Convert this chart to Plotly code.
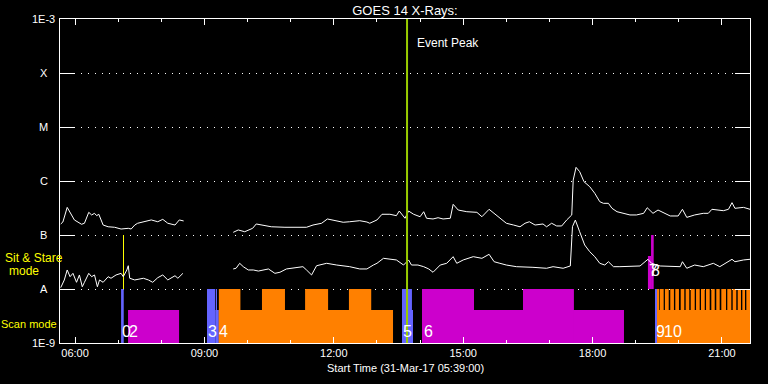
import plotly.graph_objects as go
import pandas as pd
import numpy as np

DAY = "2017-03-31 "

# ---------------- GOES long channel (1-8 A) ----------------
long_time = ["05:40", "05:43", "05:49", "05:51", "05:59", "06:09", "06:13", "06:19", "06:23", "06:27",
             "06:30", "06:33", "06:39", "06:46", "06:55", "07:04", "07:14", "07:18", "07:23", "07:27",
             "07:39", "07:46", "07:55", "08:02", "08:09", "08:19", "08:25", "08:31", "09:00",
             "09:40", "09:44", "09:47", "09:56", "10:07", "10:12", "10:24", "10:33", "10:52", "11:10",
             "11:22", "11:31", "11:43", "11:51", "12:04", "12:13", "12:22", "12:36", "12:46", "12:50",
             "13:00", "13:07", "13:18", "13:27", "13:31", "13:39", "13:44", "13:51", "14:00", "14:05",
             "14:09", "14:18", "14:25", "14:32", "14:42", "14:46", "14:53", "15:05", "15:19", "15:26",
             "15:36", "15:43", "15:50", "16:00", "16:10", "16:19", "16:26", "16:32", "16:40", "16:51",
             "16:56", "17:03", "17:10", "17:17", "17:24", "17:31", "17:33", "17:37", "17:42", "17:48",
             "17:56", "18:03", "18:10", "18:15", "18:22", "18:27", "18:34", "18:44", "18:52", "19:01",
             "19:11", "19:16", "19:24", "19:31", "19:38", "19:48", "19:59", "20:05", "20:11", "20:22",
             "20:34", "20:41", "20:46", "21:02", "21:09", "21:14", "21:18", "21:30", "21:39"]
long_flux = [1.60e-7, 1.74e-7, 3.25e-7, 2.90e-7, 1.90e-7, 1.58e-7, 1.65e-7, 2.63e-7, 2.35e-7, 2.52e-7,
             2.28e-7, 2.42e-7, 1.53e-7, 1.42e-7, 1.39e-7, 1.29e-7, 1.33e-7, 1.29e-7, 1.53e-7, 1.65e-7,
             1.82e-7, 1.90e-7, 1.76e-7, 1.95e-7, 1.65e-7, 1.53e-7, 1.90e-7, 1.82e-7, None,
             1.12e-7, 1.19e-7, 1.24e-7, 1.15e-7, 1.33e-7, 1.60e-7, 1.49e-7, 1.42e-7, 1.39e-7, 1.39e-7,
             1.39e-7, 1.53e-7, 1.65e-7, 1.98e-7, 1.82e-7, 1.72e-7, 1.76e-7, 1.84e-7, 1.74e-7, 1.65e-7,
             1.90e-7, 2.42e-7, 2.42e-7, 2.28e-7, 2.78e-7, 2.04e-7, 2.78e-7, 2.42e-7, 2.18e-7, 2.70e-7,
             2.04e-7, 1.98e-7, 2.09e-7, 1.98e-7, 2.04e-7, 3.70e-7, 2.90e-7, 2.70e-7, 2.63e-7, 2.18e-7,
             2.99e-7, 2.52e-7, 2.04e-7, 1.65e-7, 1.53e-7, 1.42e-7, 1.65e-7, 1.76e-7, 1.53e-7, 1.60e-7,
             1.42e-7, 1.65e-7, 1.47e-7, 1.47e-7, 1.90e-7, 2.35e-7, 1.04e-6, 1.79e-6, 1.49e-6, 9.70e-7,
             7.85e-7, 5.92e-7, 4.14e-7, 3.86e-7, 3.86e-7, 3.12e-7, 2.70e-7, 2.52e-7, 2.35e-7, 2.35e-7,
             2.52e-7, 3.20e-7, 2.52e-7, 2.90e-7, 2.59e-7, 2.25e-7, 2.25e-7, 2.99e-7, 2.12e-7, 2.35e-7,
             2.52e-7, 2.52e-7, 2.99e-7, 2.82e-7, 2.99e-7, 3.97e-7, 3.12e-7, 3.25e-7, 2.99e-7]

# ---------------- GOES short channel (0.5-4 A) ----------------
short_time = ["05:40", "05:45", "05:49", "05:53", "05:57", "06:02", "06:06", "06:10", "06:13", "06:19",
              "06:23", "06:27", "06:31", "06:34", "06:39", "06:46", "06:50", "06:57", "07:04", "07:07",
              "07:12", "07:14", "07:16", "07:23", "07:35", "07:42", "07:48", "07:55", "08:02", "08:09",
              "08:19", "08:23", "08:30", "09:00",
              "09:40", "09:44", "09:49", "09:54", "10:01", "10:08", "10:15", "10:22", "10:29", "10:38",
              "10:45", "10:54", "11:10", "11:17", "11:22", "11:29", "11:36", "11:50", "12:04", "12:22",
              "12:36", "12:46", "12:55", "13:00", "13:09", "13:18", "13:27", "13:37", "13:44", "13:48",
              "13:57", "14:05", "14:12", "14:18", "14:28", "14:37", "14:46", "14:51", "15:00", "15:14",
              "15:26", "15:36", "15:43", "15:51", "16:00", "16:14", "16:32", "16:37", "16:56", "17:05",
              "17:19", "17:29", "17:32", "17:36", "17:42", "17:49", "17:56", "18:03", "18:10", "18:17",
              "18:22", "18:29", "18:38", "18:52", "19:06", "19:17", "19:22", "19:34", "19:48", "20:02",
              "20:05", "20:11", "20:22", "20:34", "20:48", "20:57", "21:14", "21:18", "21:30", "21:39"]
short_flux = [1.06e-8, 1.47e-8, 2.25e-8, 1.69e-8, 1.95e-8, 1.33e-8, 1.82e-8, 1.10e-8, 1.33e-8, 1.95e-8,
              1.69e-8, 1.82e-8, 1.10e-8, 1.47e-8, 1.33e-8, 1.69e-8, 1.58e-8, 1.82e-8, 1.95e-8, 1.69e-8,
              2.25e-8, 2.70e-8, 1.58e-8, 1.47e-8, 1.58e-8, 1.47e-8, 1.33e-8, 1.62e-8, 1.82e-8, 1.47e-8,
              1.76e-8, 1.58e-8, 1.95e-8, None,
              2.35e-8, 2.42e-8, 2.99e-8, 2.59e-8, 2.25e-8, 2.25e-8, 2.15e-8, 2.25e-8, 2.35e-8, 1.95e-8,
              2.04e-8, 2.35e-8, 2.48e-8, 2.59e-8, 2.25e-8, 1.82e-8, 2.70e-8, 2.99e-8, 2.78e-8, 2.59e-8,
              2.35e-8, 2.35e-8, 2.78e-8, 2.99e-8, 3.70e-8, 3.55e-8, 3.45e-8, 2.78e-8, 3.45e-8, 2.78e-8,
              2.78e-8, 2.59e-8, 2.35e-8, 2.04e-8, 2.78e-8, 2.99e-8, 3.97e-8, 2.99e-8, 3.45e-8, 3.97e-8,
              3.70e-8, 4.39e-8, 3.20e-8, 2.99e-8, 2.78e-8, 2.59e-8, 2.59e-8, 2.52e-8, 2.42e-8, 2.59e-8,
              2.42e-8, 2.67e-8, 1.43e-7, 1.89e-7, 1.15e-7, 6.53e-8, 4.91e-8, 3.97e-8, 2.99e-8, 2.78e-8,
              3.20e-8, 2.59e-8, 2.59e-8, 2.67e-8, 2.67e-8, 3.55e-8, 2.99e-8, 2.67e-8, 2.59e-8, 2.59e-8,
              3.20e-8, 2.42e-8, 2.78e-8, 2.59e-8, 2.99e-8, 2.59e-8, 3.55e-8, 3.20e-8, 3.45e-8, 3.55e-8]

# ---------------- Scan-mode observation blocks (half-level blocks, then full-level periods) ----------------
scan_start = ["07:13:40", "09:15:00", "09:20:00", "13:48:40", "14:02:40", "19:30:40",
              "07:04:00", "09:03:30", "09:16:30", "09:20:00", "10:20:00", "11:20:00", "12:21:00",
              "13:34:50", "14:02:40", "16:23:10", "19:26:50"]
scan_end = ["08:24:40", "09:20:00", "13:22:20", "13:50:10", "18:43:40", "21:39:00",
            "07:07:40", "09:15:00", "09:17:20", "09:50:00", "10:52:00", "11:52:00", "12:52:00",
            "13:48:40", "15:15:00", "17:34:00", "19:30:40"]
scan_kind = ["magenta", "blue", "orange", "blue", "magenta", "orange",
             "blue", "blue", "blue", "orange", "orange", "orange", "orange",
             "blue", "magenta", "magenta", "blue"]
scan_level = ["half", "half", "half", "half", "half", "half",
              "full", "full", "full", "full", "full", "full", "full",
              "full", "full", "full", "full"]

# short full-level orange rasters of block 10
raster_start = ["19:30:36", "19:33:20", "19:40:40", "19:48:05", "19:55:05", "20:02:35", "20:09:30",
                "20:16:30", "20:23:55", "20:30:50", "20:37:50", "20:45:10", "20:52:05", "20:59:05",
                "21:07:25", "21:14:55", "21:21:55", "21:28:20", "21:33:55"]
raster_end = ["19:31:24", "19:38:55", "19:45:55", "19:53:10", "20:00:10", "20:07:35", "20:14:30",
              "20:22:05", "20:29:00", "20:36:00", "20:42:55", "20:49:55", "20:56:50", "21:05:35",
              "21:13:00", "21:19:55", "21:26:30", "21:32:05", "21:39:00"]

# ---------------- Sit & Stare observation blocks ----------------
sit_start = ["07:06:40", "19:17:00", "19:21:20"]
sit_end = ["07:08:00", "19:21:20", "19:25:00"]
sit_kind = ["yellow", "magenta", "magenta"]
sit_level = ["full", "half", "full"]

# ---------------- Block number labels ----------------
label_text = ["0", "2", "3", "4", "5", "6", "7", "8", "9", "10"]
label_time = ["07:03:30", "07:13:00", "09:03:00", "09:19:30", "13:35:00", "14:04:30",
              "19:17:00", "19:20:30", "19:27:00", "19:37:30"]
label_band = ["scan", "scan", "scan", "scan", "scan", "scan", "sit", "sit", "scan", "scan"]

peak_time = "13:41:50"

class_vals = [1e-9, 1e-8, 1e-7, 1e-6, 1e-5, 1e-4, 1e-3]
class_text = ["1E-9", "A", "B", "C", "M", "X", "1E-3"]

# ---------------- styling ----------------
FONT = "Liberation Sans"
NUM_FONT = "Liberation Sans Narrow, Liberation Sans"
COLORS = {"blue": "#6464ff", "magenta": "#cc00cc", "orange": "#ff8000", "yellow": "#ffff00"}
LEVEL_H = {"full": 1.0, "half": 33 / 54}
BAND_BASE = {"scan": 0.0, "sit": 1.0}


def ts(t):
    return pd.Timestamp(DAY + t)


def bar_geom(starts, ends):
    s = [ts(t) for t in starts]
    e = [ts(t) for t in ends]
    centers = [a + (b - a) / 2 for a, b in zip(s, e)]
    widths = [(b - a).total_seconds() * 1000 for a, b in zip(s, e)]
    return centers, widths


fig = go.Figure()

# scan-mode bars
c, w = bar_geom(scan_start, scan_end)
fig.add_trace(go.Bar(x=c, width=w, y=[LEVEL_H[l] for l in scan_level], base=BAND_BASE["scan"],
                     marker=dict(color=[COLORS[k] for k in scan_kind], line=dict(width=0)),
                     yaxis="y2", showlegend=False, hoverinfo="skip"))
c, w = bar_geom(raster_start, raster_end)
fig.add_trace(go.Bar(x=c, width=w, y=[LEVEL_H["full"]] * len(c), base=BAND_BASE["scan"],
                     marker=dict(color=COLORS["orange"], line=dict(width=0)),
                     yaxis="y2", showlegend=False, hoverinfo="skip"))
# sit & stare bars
c, w = bar_geom(sit_start, sit_end)
fig.add_trace(go.Bar(x=c, width=w, y=[LEVEL_H[l] for l in sit_level], base=BAND_BASE["sit"],
                     marker=dict(color=[COLORS[k] for k in sit_kind], line=dict(width=0)),
                     yaxis="y2", showlegend=False, hoverinfo="skip"))

# flux curves
fig.add_trace(go.Scatter(x=[DAY + t for t in long_time], y=long_flux, mode="lines",
                         line=dict(color="white", width=1), yaxis="y3", showlegend=False,
                         connectgaps=False))
fig.add_trace(go.Scatter(x=[DAY + t for t in short_time], y=short_flux, mode="lines",
                         line=dict(color="white", width=1), yaxis="y3", showlegend=False,
                         connectgaps=False))
# event peak
fig.add_trace(go.Scatter(x=[DAY + peak_time, DAY + peak_time], y=[class_vals[0], class_vals[-1]],
                         mode="lines", line=dict(color="#99cc00", width=2), yaxis="y3",
                         showlegend=False))

annotations = []
# y class labels (centred at the left)
for v, t in zip(class_vals, class_text):
    annotations.append(dict(x=-0.0232, xref="paper", y=np.log10(v), yref="y", text=t,
                            showarrow=False, xanchor="center", yanchor="middle",
                            font=dict(family=FONT, size=11, color="white")))
# block labels
for t, txt, band in zip(label_time, label_text, label_band):
    yv = 0.204 if band == "scan" else 1.35
    annotations.append(dict(x=DAY + t, xref="x", y=yv, yref="y2", text=txt, showarrow=False,
                            xanchor="left", yanchor="middle", borderpad=0,
                            font=dict(family=NUM_FONT, size=16, color="white")))
# mode labels
annotations += [
    dict(x=-0.0377, xref="paper", y=0.261, yref="paper", text="Sit & Stare", showarrow=False,
         xanchor="center", yanchor="middle", font=dict(family=FONT, size=12, color="#ffff00")),
    dict(x=-0.052, xref="paper", y=0.221, yref="paper", text="mode", showarrow=False,
         xanchor="center", yanchor="middle", font=dict(family=FONT, size=12, color="#ffff00")),
    dict(x=-0.0445, xref="paper", y=0.0586, yref="paper", text="Scan mode", showarrow=False,
         xanchor="center", yanchor="middle", font=dict(family=FONT, size=11, color="#ffff00")),
    dict(x=DAY + peak_time, xref="x", xshift=8, y=0.926, yref="paper", text="Event Peak",
         showarrow=False, xanchor="left", yanchor="middle",
         font=dict(family=FONT, size=12, color="white")),
    dict(x=0.5, xref="paper", y=-0.077, yref="paper", text="Start Time (31-Mar-17 05:39:00)",
         showarrow=False, xanchor="center", yanchor="middle",
         font=dict(family=FONT, size=11, color="white")),
]

fig.update_layout(
    width=768, height=384,
    margin=dict(l=60, r=18, t=19, b=41, pad=0),
    paper_bgcolor="black", plot_bgcolor="black",
    barmode="overlay",
    title=dict(text="GOES 14 X-Rays:", x=0.5, xref="paper", y=1 - 10 / 384, yref="container",
               xanchor="center", yanchor="middle", font=dict(family=FONT, size=13, color="white")),
    xaxis=dict(type="date", range=[DAY + "05:39:00", DAY + "21:39:00"],
               tick0=DAY + "00:00:00", dtick=3 * 3600 * 1000, tickformat="%H:%M",
               ticks="inside", ticklen=6, tickwidth=1, tickcolor="white",
               minor=dict(dtick=3600 * 1000, tick0=DAY + "00:00:00", ticks="inside", ticklen=3,
                          tickwidth=1, tickcolor="white", showgrid=False),
               showline=True, linecolor="white", linewidth=1, mirror="ticks",
               showgrid=False, zeroline=False,
               tickfont=dict(family=FONT, size=11, color="white")),
    yaxis=dict(type="log", range=[-9, -3], tickvals=class_vals, ticktext=class_text,
               showticklabels=False, ticks="inside", ticklen=15, tickwidth=1, tickcolor="white",
               showline=True, linecolor="white", linewidth=1, mirror="ticks",
               showgrid=True, gridcolor="white", gridwidth=1, griddash="1px,6px",
               zeroline=False),
    yaxis2=dict(overlaying="y", range=[0, 6], visible=False, fixedrange=True),
    yaxis3=dict(overlaying="y", type="log", range=[-9, -3], visible=False),
    annotations=annotations,
)

fig.write_html("out.html", config={"displayModeBar": False},
               post_script="document.body.style.margin='0';document.body.style.background='black';")
